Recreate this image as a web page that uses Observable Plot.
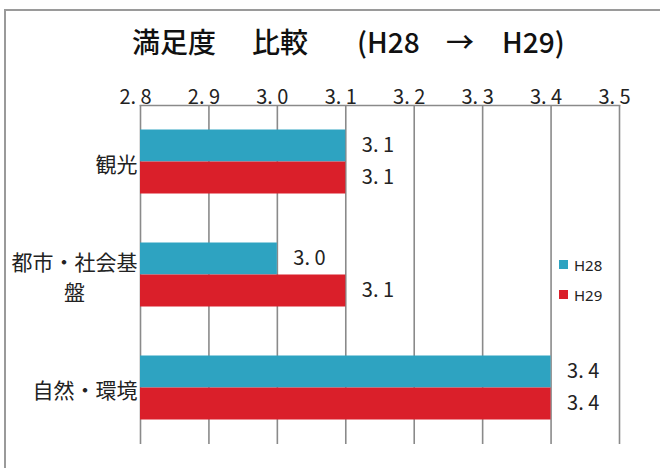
<!DOCTYPE html>
<html><head><meta charset="utf-8">
<script src="https://cdn.jsdelivr.net/npm/d3@7"></script>
<script src="https://cdn.jsdelivr.net/npm/@observablehq/plot@0.6"></script>
<style>
html,body{margin:0;padding:0;background:#fff;overflow:hidden;width:660px;height:468px;}
#wrap{position:relative;width:660px;height:468px;font-family:"Noto Sans CJK JP","Noto Sans",sans-serif;}
#border{position:absolute;left:4px;top:9px;width:700px;height:500px;border-left:2px solid #9a9a9a;border-top:2px solid #9a9a9a;}
#title{position:absolute;left:0;top:27px;width:660px;height:30px;font-size:28px;line-height:28px;color:#111;font-weight:500;}
#title span{position:absolute;top:0;white-space:pre;}
#chart{position:absolute;left:0;top:0;}
#legend{position:absolute;left:559px;top:257px;font-family:"Noto Sans","DejaVu Sans",sans-serif;font-size:15px;color:#222;}
#legend .row{display:flex;align-items:center;height:15px;margin-bottom:15px;}
#legend .sw{width:9px;height:9px;margin-right:6px;}
</style></head>
<body><div id="wrap"><div id="border"></div><div id="chart"></div><div id="title"></div><div id="legend"></div></div>
<script>
const titleParts = ["満足度", "比較", "(H28", "→", "H29)"];
const categories = ["観光", "都市・社会基盤", "自然・環境"];
const seriesNames = ["H28", "H29"];
const h28 = [3.1, 3.0, 3.4];
const h29 = [3.1, 3.1, 3.4];
const xTicks = [2.8, 2.9, 3.0, 3.1, 3.2, 3.3, 3.4, 3.5];
const colors = ["#2ea3c1", "#da1f2a"];

const rows = [];
categories.forEach((c, i) => {
  rows.push({category: c, series: seriesNames[0], value: h28[i]});
  rows.push({category: c, series: seriesNames[1], value: h29[i]});
});
const fmt = d => d.toFixed(1).replace(".", ". ");
const catLabel = c => c === "都市・社会基盤" ? "都市・社会基\n盤\u3000\u3000\u2002" : c;

// title: segments placed like the original's spaced heading
const titleLefts = [132, 252, 357, 446, 502];
const titleEl = document.getElementById("title");
titleParts.forEach((t, i) => {
  const s = document.createElement("span");
  s.textContent = t; s.style.left = titleLefts[i] + "px";
  titleEl.appendChild(s);
});

const plot = Plot.plot({
  width: 660, height: 468,
  marginLeft: 140, marginRight: 41, marginTop: 105, marginBottom: 24,
  style: {fontFamily: '"Noto Sans CJK JP", "Noto Sans", sans-serif', color: "#222", background: "transparent"},
  x: {domain: [xTicks[0], xTicks[xTicks.length - 1]]},
  y: {domain: categories, padding: 0},
  color: {domain: seriesNames, range: colors},
  marks: [
    Plot.ruleX(xTicks, {stroke: "#8a8a8a", strokeWidth: 1.6}),
    Plot.frame({anchor: "top", stroke: "#8a8a8a", strokeWidth: 1.6}),
    Plot.barX(rows.filter(d => d.series === seriesNames[0]), {x1: () => xTicks[0], x2: "value", y: "category", fill: "series", insetTop: 24.5, insetBottom: 56.5}),
    Plot.barX(rows.filter(d => d.series === seriesNames[1]), {x1: () => xTicks[0], x2: "value", y: "category", fill: "series", insetTop: 56.5, insetBottom: 24.5}),
    Plot.text(rows.filter(d => d.series === seriesNames[0]), {x: "value", y: "category", text: d => fmt(d.value), textAnchor: "start", dx: 16, dy: -16, fontSize: 20, fill: "#222"}),
    Plot.text(rows.filter(d => d.series === seriesNames[1]), {x: "value", y: "category", text: d => fmt(d.value), textAnchor: "start", dx: 16, dy: 16, fontSize: 20, fill: "#222"}),
    Plot.axisX({anchor: "top", ticks: xTicks, tickSize: 0, tickPadding: 2, tickFormat: fmt, fontSize: 20, dx: -5, label: null}),
    Plot.axisY({anchor: "left", tickSize: 0, tickPadding: 3, tickFormat: catLabel, fontSize: 21, label: null, lineHeight: 1.45})
  ]
});
document.getElementById("chart").appendChild(plot);

const legend = document.getElementById("legend");
seriesNames.forEach((s, i) => {
  const r = document.createElement("div"); r.className = "row";
  const sw = document.createElement("div"); sw.className = "sw"; sw.style.background = colors[i];
  const t = document.createElement("span"); t.textContent = s;
  r.appendChild(sw); r.appendChild(t); legend.appendChild(r);
});
</script></body></html>
